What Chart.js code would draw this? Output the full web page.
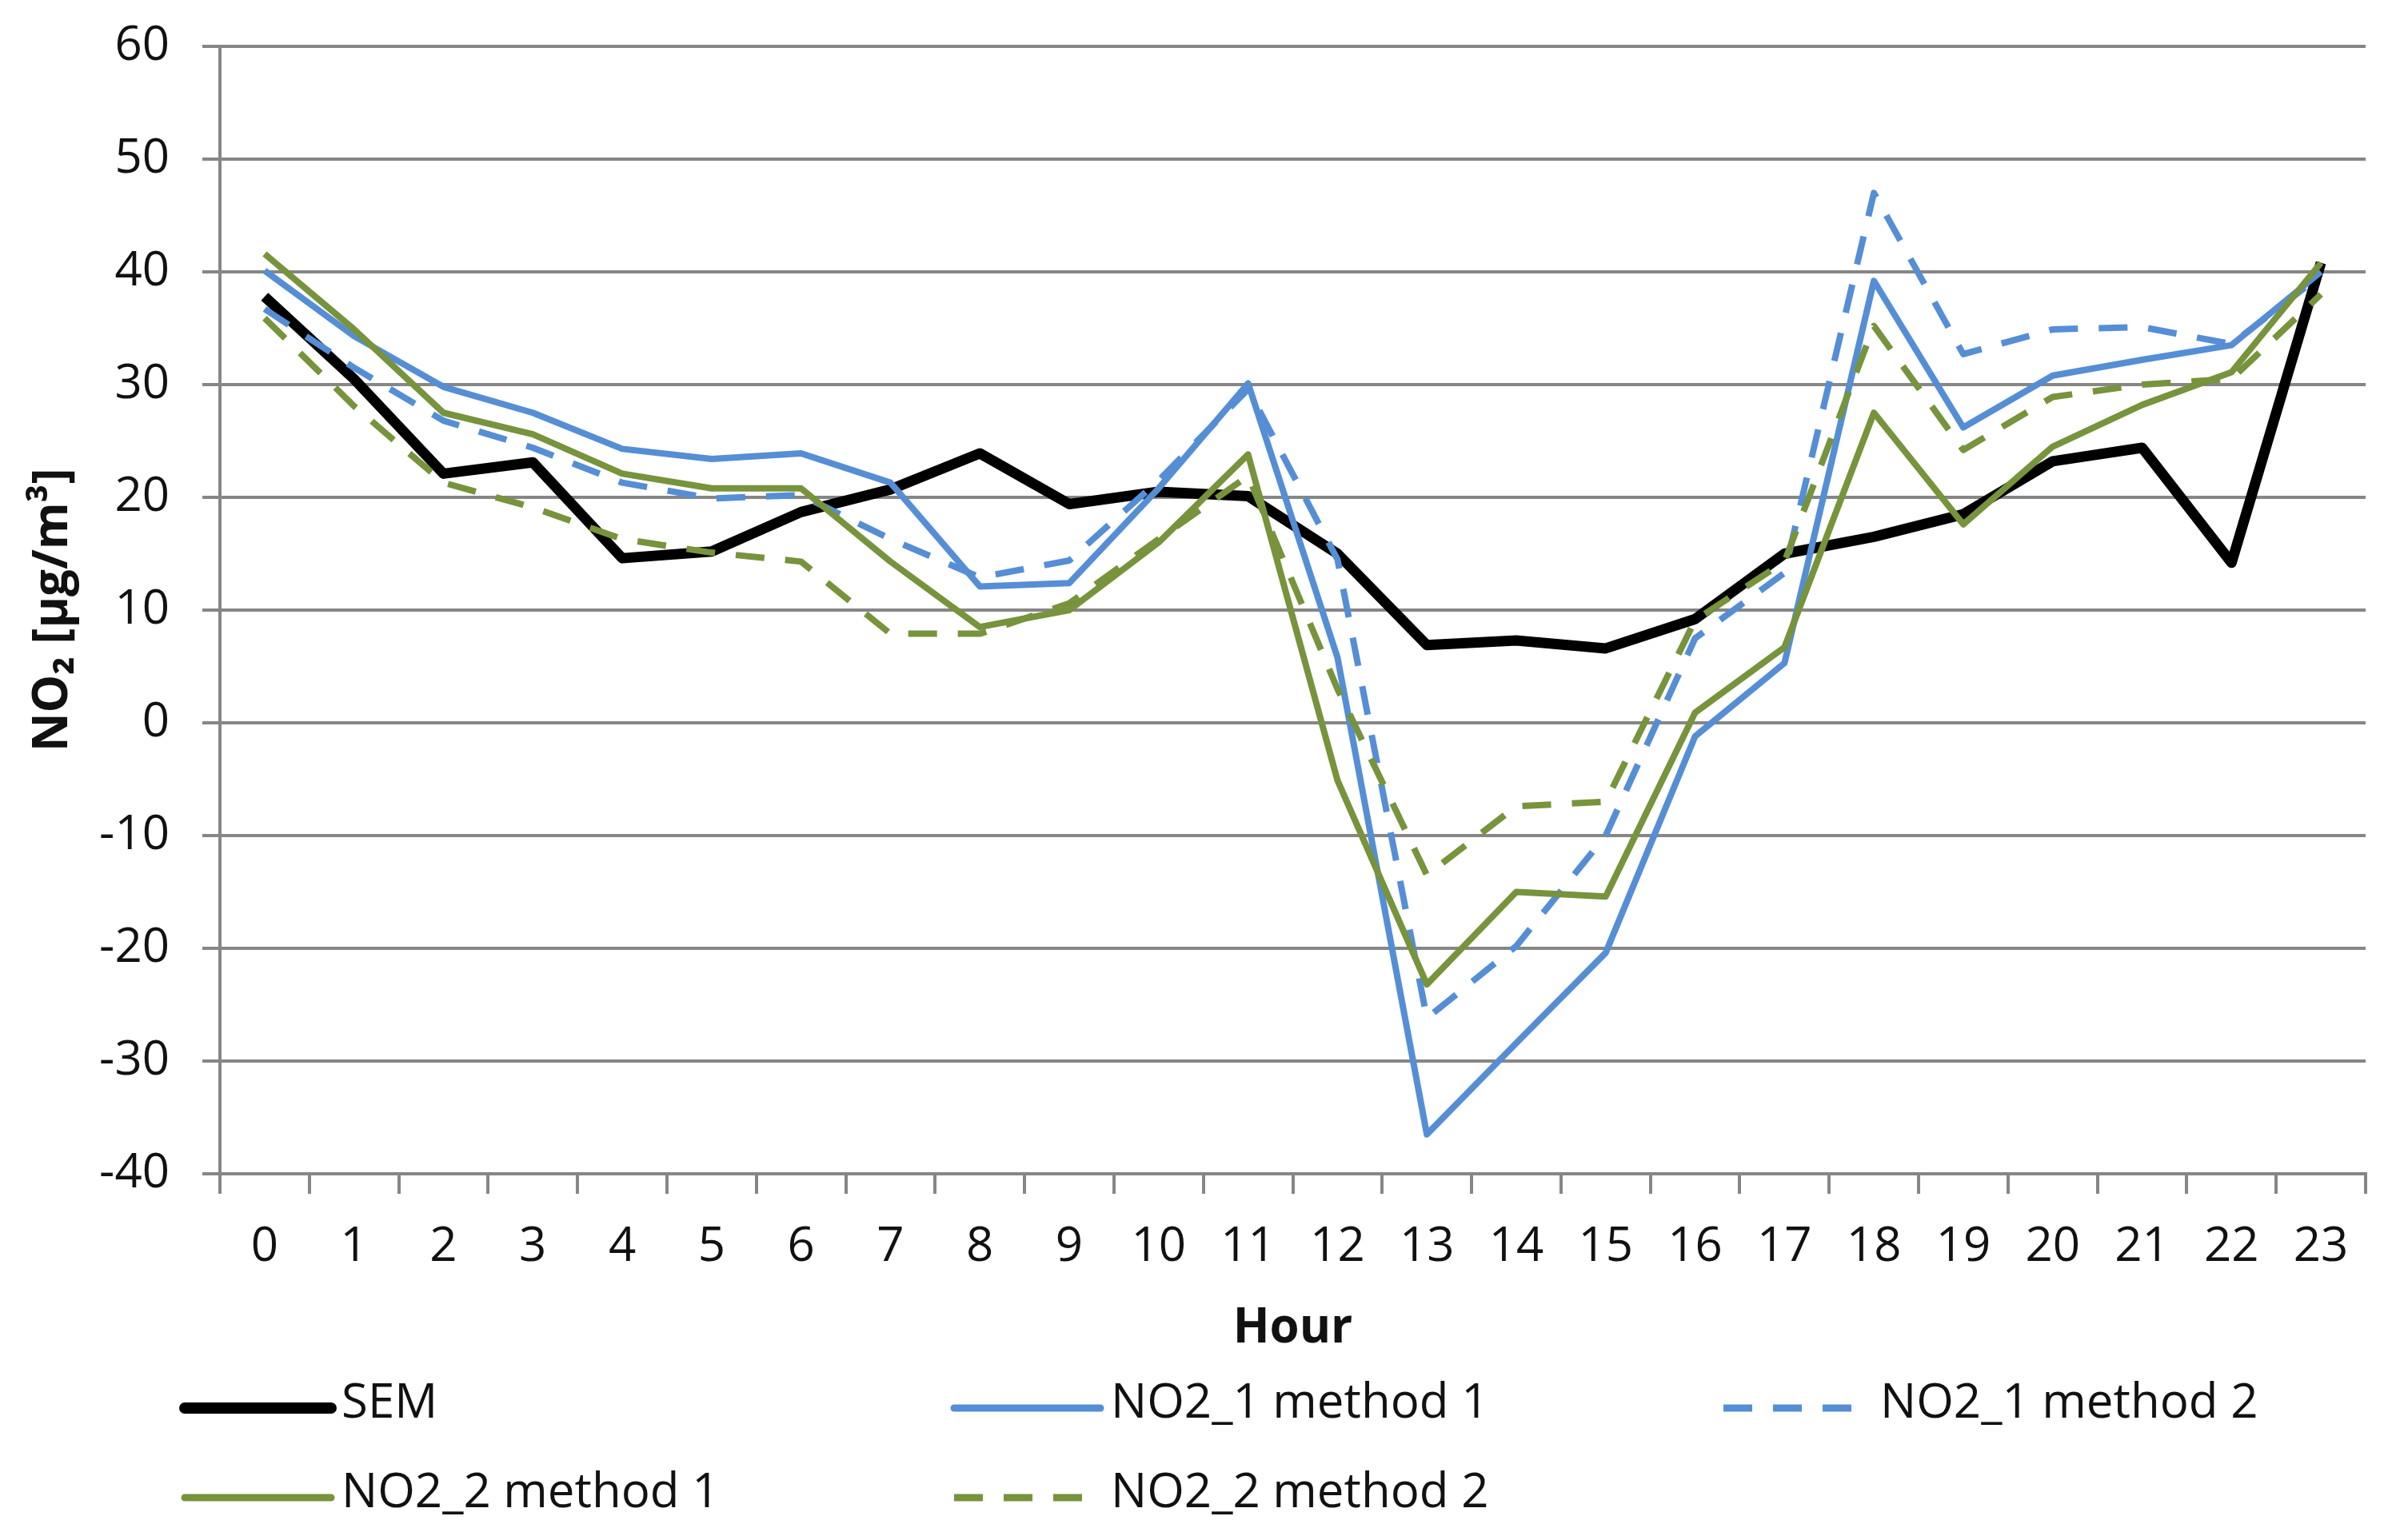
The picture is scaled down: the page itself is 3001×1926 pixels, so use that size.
<!DOCTYPE html>
<html>
<head>
<meta charset="utf-8">
<script src="https://cdn.jsdelivr.net/npm/chart.js@4"></script>
<style>
    html, body { margin: 0; padding: 0; background: #ffffff; }
    #wrap { width: 3001px; height: 1926px; }
</style>
</head>
<body>
<div id="wrap"><canvas id="no2Chart"></canvas></div>
<script>
// Values
const HOURS = ['0', '1', '2', '3', '4', '5', '6', '7', '8', '9', '10', '11',
               '12', '13', '14', '15', '16', '17', '18', '19', '20', '21', '22', '23'];

const SEM = [37.8, 30.5, 22.1, 23.1, 14.6, 15.2, 18.7, 20.7, 23.9, 19.4, 20.5, 20.1,
             15.0, 6.9, 7.3, 6.6, 9.2, 15.0, 16.5, 18.5, 23.2, 24.4, 14.2, 40.8];

const NO2_1_METHOD_1 = [40.1, 34.3, 29.8, 27.5, 24.3, 23.4, 23.9, 21.3, 12.1, 12.4, 20.8, 30.1,
                        5.8, -36.5, -28.4, -20.4, -1.2, 5.3, 39.2, 26.2, 30.8, 32.2, 33.5, 40.0];

const NO2_1_METHOD_2 = [36.7, 31.5, 26.8, 24.4, 21.3, 19.9, 20.2, 16.3, 12.9, 14.4, 21.5, 29.6,
                        14.5, -26.2, -19.8, -10.0, 7.5, 13.3, 47.0, 32.7, 34.9, 35.1, 33.6, 39.7];

const NO2_2_METHOD_1 = [41.6, 34.9, 27.5, 25.6, 22.1, 20.8, 20.8, 14.3, 8.5, 10.0, 16.0, 23.8,
                        -5.1, -23.2, -15.0, -15.4, 0.9, 6.7, 27.5, 17.6, 24.5, 28.2, 31.1, 40.8];

const NO2_2_METHOD_2 = [35.9, 28.1, 21.3, 19.1, 16.3, 15.1, 14.3, 7.9, 7.9, 10.6, 16.3, 21.9,
                        3.0, -13.5, -7.4, -7.0, 9.1, 14.3, 35.2, 24.2, 28.9, 30.0, 30.5, 38.0];

const Y_MIN = -40;
const Y_MAX = 60;
const Y_STEP = 10;

const BLUE = '#558ED5';
const GREEN = '#77933C';
const GRID = '#868686';
const TEXT = '#111111';
const FONT_FAMILY = '"Open Sans", Lato, sans-serif';
const FONT_SIZE = 60;
const DASH = [36, 26];

// Legend laid out in a 3-column grid, like the Excel original
const legendGrid = {
    id: 'legendGrid',
    afterDraw(chart, args, opts) {
        const ctx = chart.ctx;
        ctx.save();
        ctx.font = FONT_SIZE + 'px ' + FONT_FAMILY;
        ctx.textBaseline = 'middle';
        ctx.textAlign = 'left';
        chart.data.datasets.forEach((ds, i) => {
            const col = i % opts.columns;
            const row = Math.floor(i / opts.columns);
            const x = opts.left + col * opts.colStep;
            const y = opts.top + row * opts.rowStep;
            ctx.beginPath();
            ctx.strokeStyle = ds.borderColor;
            ctx.lineWidth = ds.borderWidth + 1;
            ctx.setLineDash(ds.borderDash || []);
            ctx.lineCap = ds.borderDash ? 'butt' : 'round';
            ctx.moveTo(x, y);
            ctx.lineTo(x + opts.sample, y);
            ctx.stroke();
            ctx.setLineDash([]);
            ctx.fillStyle = TEXT;
            ctx.fillText(ds.label, x + opts.sample + opts.gap, y - 5);
        });
        ctx.restore();
    }
};

function makeLine(label, data, color, width, dashed, order) {
    return {
        label: label,
        data: data,
        borderColor: color,
        backgroundColor: color,
        borderWidth: width,
        borderDash: dashed ? DASH : undefined,
        borderJoinStyle: 'round',
        pointRadius: 0,
        tension: 0,
        fill: false,
        order: order
    };
}

function initChart() {
    const ctx = document.getElementById('no2Chart').getContext('2d');

    new Chart(ctx, {
        type: 'line',
        data: {
            labels: HOURS,
            datasets: [
                makeLine('SEM', SEM, '#000000', 13, false, 5),
                makeLine('NO2_1 method 1', NO2_1_METHOD_1, BLUE, 8, false, 4),
                makeLine('NO2_1 method 2', NO2_1_METHOD_2, BLUE, 8, true, 3),
                makeLine('NO2_2 method 1', NO2_2_METHOD_1, GREEN, 8, false, 2),
                makeLine('NO2_2 method 2', NO2_2_METHOD_2, GREEN, 8, true, 1)
            ]
        },
        options: {
            responsive: true,
            maintainAspectRatio: false,
            devicePixelRatio: 1,
            animation: false,
            layout: {
                padding: { left: 0, right: 43, top: 58, bottom: 220 }
            },
            plugins: {
                legend: { display: false },
                tooltip: { enabled: false },
                legendGrid: {
                    columns: 3,
                    left: 231,
                    colStep: 962,
                    top: 1761,
                    rowStep: 112,
                    sample: 183,
                    gap: 13
                }
            },
            scales: {
                x: {
                    offset: true,
                    afterFit(scale) { scale.height = 238; },
                    grid: {
                        offset: true,
                        drawOnChartArea: false,
                        drawTicks: true,
                        tickLength: 25,
                        color: GRID,
                        lineWidth: 4
                    },
                    border: { color: GRID, width: 4 },
                    ticks: {
                        color: TEXT,
                        padding: 31,
                        maxRotation: 0,
                        autoSkip: false,
                        font: { family: FONT_FAMILY, size: FONT_SIZE }
                    },
                    title: {
                        display: true,
                        text: 'Hour',
                        color: TEXT,
                        padding: { top: 0, bottom: 8 },
                        font: { family: FONT_FAMILY, size: FONT_SIZE, weight: 'bold' }
                    }
                },
                y: {
                    min: Y_MIN,
                    max: Y_MAX,
                    afterFit(scale) {
                        scale.width = 275;
                        // keep the plot top where the layout padding puts it
                        scale.paddingTop = 0;
                        scale.paddingBottom = 0;
                    },
                    grid: {
                        color: GRID,
                        lineWidth: 4,
                        drawTicks: true,
                        tickLength: 22
                    },
                    border: { color: GRID, width: 4 },
                    ticks: {
                        stepSize: Y_STEP,
                        color: TEXT,
                        padding: 41,
                        font: { family: FONT_FAMILY, size: FONT_SIZE }
                    },
                    title: {
                        display: true,
                        text: 'NO\u2082 [\u00b5g/m\u00b3]',
                        color: TEXT,
                        padding: { top: 31, bottom: 0 },
                        font: { family: FONT_FAMILY, size: FONT_SIZE, weight: 'bold' }
                    }
                }
            }
        },
        plugins: [legendGrid]
    });
}

initChart();
</script>
</body>
</html>
